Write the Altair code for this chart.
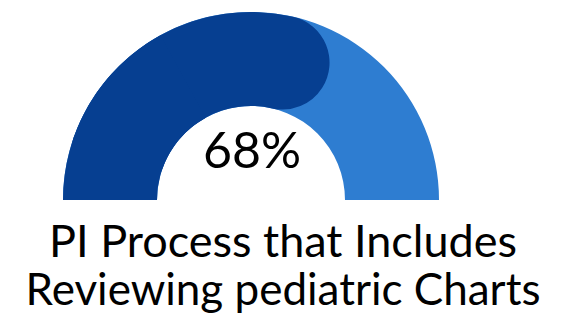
import altair as alt
import pandas as pd

value = 68
segments = ["Remaining", "Value", "ValueBase"]
starts = [0, 0, 0]
ends = [100, value, value / 2]
colors = ["#2E7DD1", "#063F91", "#063F91"]
corner = [0, 47, 0]
center_label = f"{value}%"
title_lines = ["PI Process that Includes", "Reviewing pediatric Charts"]

cx, cy = 243, 192
r_out, r_in = 188, 94

theta_scale = alt.Scale(domain=[0, 100], range=[-3.141592653589793 / 2, 3.141592653589793 / 2])

layers = []
for i, seg in enumerate(segments):
    df = pd.DataFrame({"seg": [seg], "start": [starts[i]], "end": [ends[i]]})
    kw = dict(radius=r_out, radius2=r_in, color=colors[i])
    if corner[i]:
        kw["cornerRadius"] = corner[i]
    layers.append(
        alt.Chart(df).mark_arc(**kw).encode(
            theta=alt.Theta("start:Q", scale=theta_scale),
            theta2="end:Q",
            x=alt.value(cx),
            y=alt.value(cy),
        )
    )

label = alt.Chart(pd.DataFrame({"t": [center_label]})).mark_text(
    font="Lato", fontSize=50, color="#000000", baseline="alphabetic", align="center"
).encode(text="t:N", x=alt.value(244), y=alt.value(160))

title1 = alt.Chart(pd.DataFrame({"t": [title_lines[0]]})).mark_text(
    font="Lato", fontSize=45, color="#000000", baseline="alphabetic", align="center"
).encode(text="t:N", x=alt.value(275), y=alt.value(249))

title2 = alt.Chart(pd.DataFrame({"t": [title_lines[1]]})).mark_text(
    font="Lato", fontSize=44, color="#000000", baseline="alphabetic", align="center"
).encode(text="t:N", x=alt.value(275), y=alt.value(297))

chart = alt.layer(*layers, label, title1, title2).properties(
    width=545, height=306, padding=0, autosize=alt.AutoSizeParams(type="none")
).configure_view(stroke=None)

chart.save("out.html", embed_options={"renderer": "svg", "actions": False})
